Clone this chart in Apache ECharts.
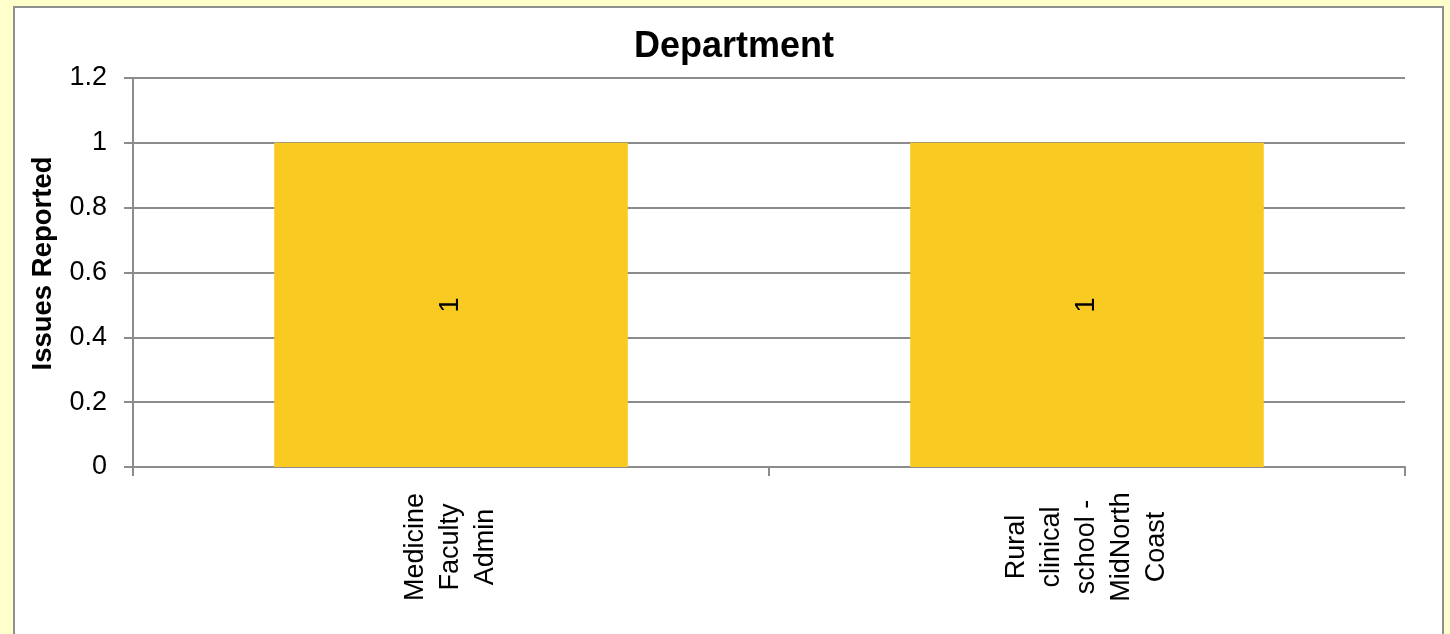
<!DOCTYPE html>
<html>
<head>
<meta charset="utf-8">
<script src="https://cdn.jsdelivr.net/npm/echarts@6/dist/echarts.min.js"></script>
<style>
html,body{margin:0;padding:0;background:#FFFFCC;}
#chart{width:1450px;height:634px;}
</style>
</head>
<body>
<div id="chart"></div>
<script>
const categories = ['Medicine\nFaculty\nAdmin', 'Rural\nclinical\nschool -\nMidNorth\nCoast'];
const values = [1, 1];
const yTicks = { min: 0, max: 1.2, interval: 0.2 };
const titleText = 'Department';
const yAxisName = 'Issues Reported';

const font = '"Liberation Sans", Arial, sans-serif';
const chart = echarts.init(document.getElementById('chart'));
chart.setOption({
  backgroundColor: '#FFFFCC',
  animation: false,
  graphic: [{
    type: 'rect',
    left: 13, top: 6,
    shape: { width: 1429, height: 660 },
    style: { fill: '#FFFFFF', stroke: '#8f8f8f', lineWidth: 2 },
    z: -10
  }],
  title: {
    text: titleText,
    left: 729, top: 24,
    textAlign: 'center',
    textStyle: { fontFamily: font, fontSize: 36, fontWeight: 'bold', color: '#000' }
  },
  grid: { left: 133, right: 45, top: 78, bottom: 167, containLabel: false },
  xAxis: {
    type: 'category',
    data: categories,
    axisLine: { lineStyle: { color: '#8c8c8c', width: 2 } },
    axisTick: { show: true, alignWithLabel: false, length: 9, lineStyle: { color: '#8c8c8c', width: 2 } },
    axisLabel: {
      rotate: 90, align: 'center', verticalAlign: 'middle', margin: 80,
      fontFamily: font, fontSize: 27, lineHeight: 35, color: '#000', interval: 0
    }
  },
  yAxis: {
    type: 'value',
    min: yTicks.min, max: yTicks.max, interval: yTicks.interval,
    name: yAxisName,
    nameLocation: 'middle',
    nameGap: 76,
    nameRotate: 90,
    nameTextStyle: { fontFamily: font, fontSize: 27.5, fontWeight: 'bold', color: '#000', padding: [0, 0, 0, 18] },
    axisLine: { show: true, lineStyle: { color: '#8c8c8c', width: 2 } },
    axisTick: { show: true, length: 9, lineStyle: { color: '#8c8c8c', width: 2 } },
    splitLine: { lineStyle: { color: '#8c8c8c', width: 2 } },
    axisLabel: {
      margin: 26, fontFamily: font, fontSize: 27, color: '#000',
      formatter: v => String(Math.round(v * 10) / 10)
    }
  },
  series: [{
    type: 'bar',
    data: values,
    barWidth: '55.6%',
    itemStyle: { color: '#F9CB22' },
    label: {
      show: true, position: 'inside', rotate: 90,
      fontFamily: font, fontSize: 27, color: '#000'
    }
  }]
});
</script>
</body>
</html>
